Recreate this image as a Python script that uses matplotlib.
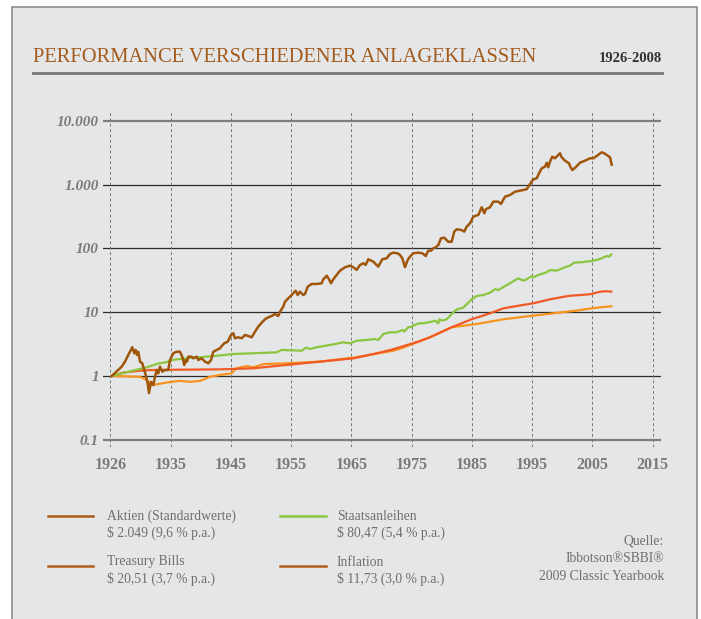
import matplotlib
matplotlib.use("Agg")
import matplotlib.pyplot as plt
from matplotlib.patches import Rectangle
from matplotlib.lines import Line2D

# values (time in years, growth of $1 from end of 1925)
aktien_t = [1925.0, 1926.66, 1927.21, 1927.75, 1928.42, 1928.75, 1928.98, 1929.2, 1929.41, 1929.7,
            1930.08, 1930.41, 1930.64, 1930.97, 1931.19, 1931.52, 1931.9, 1932.18, 1932.47, 1932.73,
            1933.01, 1933.4, 1933.84, 1934.39, 1934.67, 1935.22, 1935.78, 1936.33, 1936.71, 1937.05,
            1937.28, 1937.49, 1937.71, 1938.27, 1938.54, 1939.1, 1939.37, 1939.93, 1940.48, 1941.03,
            1941.48, 1941.86, 1942.42, 1942.97, 1943.25, 1943.68, 1944.25, 1944.79, 1945.18, 1945.46,
            1946.01, 1946.57, 1947.12, 1947.66, 1948.23, 1948.78, 1949.32, 1949.89, 1950.44, 1950.98,
            1951.55, 1952.09, 1952.64, 1952.93, 1953.47, 1953.75, 1954.3, 1954.87, 1955.53, 1955.86,
            1956.24, 1956.79, 1957.07, 1957.52, 1958.18, 1959.01, 1959.84, 1960.11, 1960.67, 1961.05,
            1961.39, 1961.77, 1962.33, 1962.88, 1963.71, 1964.54, 1965.09, 1965.65, 1966.2, 1966.75,
            1967.14, 1967.58, 1968.41, 1969.23, 1969.9, 1970.63, 1971.18, 1971.72, 1972.45, 1972.83,
            1973.22, 1973.66, 1974.11, 1974.49, 1975.04, 1975.87, 1976.54, 1977.1, 1977.53, 1977.98,
            1978.36, 1978.76, 1979.19, 1979.64, 1980.19, 1980.85, 1981.41, 1981.84, 1982.24, 1983.07,
            1983.5, 1983.9, 1984.45, 1985.0, 1985.28, 1985.83, 1986.39, 1986.83, 1987.06, 1987.77,
            1988.32, 1989.14, 1989.59, 1990.26, 1991.09, 1991.92, 1992.75, 1993.86, 1994.41, 1994.95,
            1995.52, 1995.9, 1996.35, 1996.89, 1997.18, 1997.44, 1997.72, 1998.1, 1998.55, 1999.38,
            1999.66, 2000.21, 2000.87, 2001.04, 2001.42, 2001.99, 2002.7, 2003.53, 2004.36, 2004.91,
            2005.47, 2006.3, 2006.73, 2007.13, 2007.68, 2007.96]
aktien_v = [1.0, 1.40, 1.68, 2.13, 2.82, 2.27, 2.56, 2.13, 2.40, 1.68,
            1.58, 1.24, 1.04, 0.77, 0.54, 0.81, 0.72, 0.97, 1.24, 1.10,
            1.40, 1.17, 1.24, 1.24, 1.78, 2.27, 2.40, 2.40, 2.01, 1.49,
            1.78, 1.68, 2.01, 2.01, 1.89, 2.01, 1.78, 1.89, 1.68, 1.58,
            1.78, 2.40, 2.56, 2.72, 2.95, 3.25, 3.45, 4.39, 4.67, 3.90,
            4.04, 3.90, 4.39, 4.24, 4.04, 4.95, 5.93, 6.85, 7.74, 8.32,
            8.72, 9.37, 8.72, 10.2, 12.2, 14.6, 16.5, 18.6, 21.7, 18.6,
            20.9, 18.6, 19.3, 25.1, 27.7, 27.7, 28.4, 32.8, 37.3, 32.8,
            28.4, 32.8, 38.3, 44.7, 50.6, 53.6, 50.6, 45.9, 55.0, 58.4,
            55.0, 67.5, 61.9, 51.7, 67.5, 70.0, 81.7, 85.7, 83.8, 78.8,
            70.0, 50.6, 65.8, 74.1, 83.8, 85.7, 83.8, 76.0, 92.1, 92.1,
            100.4, 104.0, 113, 144, 147, 127, 127, 183, 199, 194,
            183, 219, 247, 314, 322, 334, 441, 355, 410, 441,
            540, 540, 497, 646, 687, 774, 802, 844, 1021, 1210,
            1255, 1504, 1800, 1909, 2205, 1867, 2286, 2737, 2583, 3094,
            2680, 2370, 2157, 1958, 1693, 1867, 2205, 2370, 2583, 2583,
            2806, 3208, 3094, 2910, 2680, 2049]

anleihen_t = [1925.0, 1928.6, 1930.9, 1932.5, 1934.1, 1935.3, 1938.2, 1942.1, 1945.4, 1948.5,
              1952.38, 1953.21, 1956.53, 1957.24, 1957.9, 1959.01, 1961.22, 1963.43, 1964.54, 1965.65,
              1967.31, 1968.69, 1969.24, 1970.06, 1971.18, 1972.29, 1973.28, 1973.5, 1974.21, 1974.78,
              1975.61, 1976.15, 1976.7, 1978.09, 1978.64, 1979.19, 1979.36, 1979.75, 1980.58, 1981.96,
              1982.51, 1983.34, 1984.73, 1985.56, 1986.66, 1987.77, 1988.6, 1989.15, 1991.09, 1992.46,
              1993.29, 1993.86, 1994.69, 1994.95, 1995.78, 1997.18, 1997.72, 1998.83, 2000.21, 2001.04,
              2001.71, 2002.98, 2004.64, 2005.47, 2006.3, 2007.13, 2007.56, 2007.9]
anleihen_v = [1.0, 1.22, 1.37, 1.55, 1.65, 1.80, 1.92, 2.06, 2.22, 2.27,
              2.35, 2.56, 2.49, 2.78, 2.65, 2.82, 3.06, 3.37, 3.25, 3.57,
              3.67, 3.80, 3.67, 4.55, 4.84, 4.84, 5.27, 4.95, 5.80, 5.93,
              6.53, 6.70, 6.70, 7.10, 7.37, 6.70, 7.74, 7.37, 7.74, 10.6,
              11.2, 11.8, 15.9, 18.0, 18.6, 20.2, 22.9, 22.3, 28.4, 34.0,
              31.2, 32.8, 36.8, 35.2, 38.3, 42.2, 45.9, 44.7, 50.6, 53.6,
              59.8, 60.7, 63.4, 65.8, 70.0, 76.0, 74.1, 80.5]

tbills_t = [1925.0, 1926.9, 1929.7, 1931.5, 1934.0, 1942.9, 1948.5, 1954.0, 1959.6, 1965.1,
            1969.0, 1971.7, 1974.0, 1976.2, 1977.8, 1981.4, 1984.7, 1987.8, 1990.0, 1993.3,
            1995.0, 1997.7, 2000.8, 2004.4, 2006.0, 2006.9, 2007.9]
tbills_v = [1.0, 1.13, 1.21, 1.24, 1.25, 1.27, 1.32, 1.49, 1.68, 1.89,
            2.27, 2.62, 3.06, 3.54, 4.04, 5.80, 7.74, 9.61, 11.5, 13.0,
            13.8, 15.9, 18.0, 19.1, 20.9, 21.3, 21.0]

inflation_t = [1925.0, 1927.2, 1929.7, 1930.8, 1931.6, 1932.5, 1934.1, 1936.3, 1938.0, 1939.7,
               1941.3, 1943.0, 1944.9, 1945.7, 1947.4, 1948.5, 1950.2, 1954.0, 1959.6, 1965.1,
               1968.4, 1971.7, 1973.1, 1976.2, 1977.8, 1981.4, 1985.6, 1990.0, 1994.4, 1998.3,
               2002.2, 2004.6, 2007.1, 2007.9]
inflation_v = [1.0, 0.99, 0.97, 0.87, 0.72, 0.74, 0.79, 0.84, 0.81, 0.84,
               0.97, 1.04, 1.10, 1.32, 1.43, 1.37, 1.54, 1.58, 1.68, 1.94,
               2.19, 2.49, 2.72, 3.54, 4.04, 5.80, 6.53, 7.74, 8.72, 9.61,
               10.6, 11.5, 12.2, 12.4]

x_labels = ['1926', '1935', '1945', '1955', '1965', '1975', '1985', '1995', '2005', '2015']
x_pos = [1924.77, 1934.77, 1944.77, 1954.77, 1964.77, 1974.77, 1984.77, 1994.77, 2004.77, 2014.77]
y_ticks = [0.1, 1, 10, 100, 1000, 10000]
y_labels = ['0.1', '1', '10', '100', '1.000', '10.000']

legend_names = ['Aktien (Standardwerte)', 'Staatsanleihen', 'Treasury Bills', 'Inflation']
legend_values = ['$ 2.049 (9,6 % p.a.)', '$ 80,47 (5,4 % p.a.)',
                 '$ 20,51 (3,7 % p.a.)', '$ 11,73 (3,0 % p.a.)']

c_aktien = '#9f560b'
c_anleihen = '#8cc63f'
c_tbills = '#f15a24'
c_infl = '#f7931e'
c_legend = ['#a65c12', c_anleihen, '#b0601c', '#b0601c']
tick_grey = '#7a7a7a'
serif = 'Liberation Serif'

W, H = 701, 619
fig = plt.figure(figsize=(W / 100, H / 100), dpi=100)
fig.patch.set_facecolor('white')

# grey panel with border
fig.patches.append(Rectangle((12 / W, -0.1), (697 - 12) / W, 1.1 - 7 / H,
                             transform=fig.transFigure, facecolor='#e5e6e8',
                             edgecolor='#8c8c8c', lw=1.2, zorder=-5))

fig.text(33 / W, 1 - 57 / H, 'PERFORMANCE VERSCHIEDENER ANLAGEKLASSEN', family=serif,
         fontsize=14.8, color='#a35b1c', va='center', ha='left')
fig.text(662 / W, 1 - 59 / H, '1926-2008', family=serif, fontsize=10.5, fontweight='bold',
         color='#333333', va='center', ha='right')
fig.lines.append(Line2D([33 / W, 662 / W], [1 - 73 / H, 1 - 73 / H], transform=fig.transFigure,
                        color='#777777', lw=2))

ax = fig.add_axes([103 / W, 1 - 447 / H, (661 - 103) / W, (447 - 110) / H])
ax.set_zorder(2)
ax.set_facecolor('none')
ax.set_yscale('log')
ax.set_xlim(1923.56, 2016.14)
ax.set_ylim(10 ** -1.113, 10 ** 4.169)

for y in y_ticks:
    if y in (0.1, 10000):
        ax.axhline(y, color='#7d7d7d', lw=1.6, zorder=1)
    else:
        ax.axhline(y, color='#2b2b2b', lw=0.9, zorder=1)
for x in x_pos:
    ax.axvline(x, color='#777777', lw=0.7, ls=(0, (3, 2.5)), zorder=1)

ax.plot(inflation_t, inflation_v, color=c_infl, lw=1.6, zorder=3)
ax.plot(tbills_t, tbills_v, color=c_tbills, lw=1.6, zorder=3)
ax.plot(anleihen_t, anleihen_v, color=c_anleihen, lw=1.6, zorder=3)
ax.plot(aktien_t, aktien_v, color=c_aktien, lw=1.8, zorder=4)

ax.set_yticks(y_ticks)
ax.set_yticklabels(y_labels)
ax.minorticks_off()
ax.set_xticks(x_pos)
ax.set_xticklabels(x_labels)
ax.tick_params(length=0)
ax.tick_params(axis='y', pad=3)
ax.tick_params(axis='x', pad=7.5)
for lab in ax.get_yticklabels():
    lab.set_family(serif)
    lab.set_fontweight('bold')
    lab.set_fontstyle('italic')
    lab.set_fontsize(11)
    lab.set_color(tick_grey)
for lab in ax.get_xticklabels():
    lab.set_family(serif)
    lab.set_fontweight('bold')
    lab.set_fontsize(11.5)
    lab.set_color(tick_grey)
for s in ax.spines.values():
    s.set_visible(False)

# legend
line_x = [(48, 93), (280, 326), (48, 93), (280, 326)]
text_x = [107, 337, 107, 337]
row_y = [516, 516, 562, 562]
for i in range(4):
    ly = row_y[i] + (0 if i < 2 else 4)
    fig.lines.append(Line2D([line_x[i][0] / W, line_x[i][1] / W], [1 - ly / H, 1 - ly / H],
                            transform=fig.transFigure, color=c_legend[i], lw=1.8))
    fig.text(text_x[i] / W, 1 - row_y[i] / H, legend_names[i], family=serif, fontsize=9.8,
             color='#6f6f6f', va='center', ha='left')
    fig.text(text_x[i] / W, 1 - (row_y[i] + 17) / H, legend_values[i], family=serif, fontsize=9.8,
             color='#6f6f6f', va='center', ha='left')

for txt, y in zip(['Quelle:', 'Ibbotson®SBBI®', '2009 Classic Yearbook'], [541, 559, 577]):
    fig.text(664 / W, 1 - y / H, txt, family=serif, fontsize=9.8, color='#6f6f6f',
             va='center', ha='right')

fig.savefig('out.png', dpi=100)
